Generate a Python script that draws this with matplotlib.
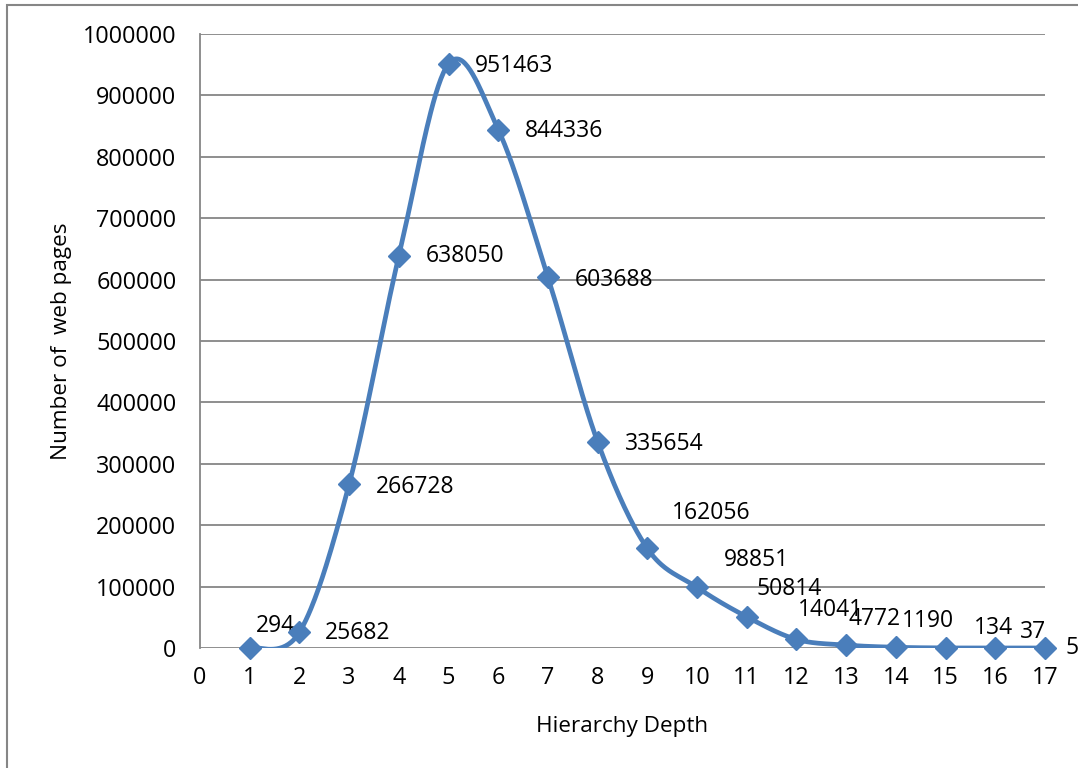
import numpy as np
import matplotlib.pyplot as plt
from matplotlib.patches import Rectangle

plt.rcParams['font.family'] = ['Open Sans', 'DejaVu Sans']

# data
depth = [1, 2, 3, 4, 5, 6, 7, 8, 9, 10, 11, 12, 13, 14, 15, 16, 17]
pages = [294, 25682, 266728, 638050, 951463, 844336, 603688, 335654,
         162056, 98851, 50814, 14041, 4772, 1190, 134, 37, 5]
x_ticks = list(range(0, 18))
y_ticks = list(range(0, 1000001, 100000))

# label offsets in pixels (dx, dy), as placed in the original chart
label_off = [(26, 22), (58, -1), (66, -3), (66, 0), (66, -2), (66, -1),
             (66, -3), (67, -2), (64, 35), (59, 27), (42, 28), (34, 29),
             (28, 26), (32, 26), (48, 20), (38, 16), (27, 0)]


def excel_smooth(x, y, n=40):
    # Catmull-Rom style bezier, similar to Excel's smoothed line
    x = np.asarray(x, float)
    y = np.asarray(y, float)
    px = np.concatenate([[x[0]], x, [x[-1]]])
    py = np.concatenate([[y[0]], y, [y[-1]]])
    xs, ys = [], []
    t = np.linspace(0, 1, n)
    for i in range(1, len(px) - 2):
        p0 = np.array([px[i], py[i]])
        p3 = np.array([px[i + 1], py[i + 1]])
        p1 = p0 + (np.array([px[i + 1], py[i + 1]]) - np.array([px[i - 1], py[i - 1]])) / 6
        p2 = p3 - (np.array([px[i + 2], py[i + 2]]) - np.array([px[i], py[i]])) / 6
        b = (np.outer((1 - t) ** 3, p0) + np.outer(3 * (1 - t) ** 2 * t, p1)
             + np.outer(3 * (1 - t) * t ** 2, p2) + np.outer(t ** 3, p3))
        xs.extend(b[:, 0])
        ys.extend(b[:, 1])
    return np.array(xs), np.array(ys)


W, H = 1078, 768
fig = plt.figure(figsize=(W / 100, H / 100), dpi=100)
ax = fig.add_axes([200 / W, 1 - 648 / H, 845 / W, 614 / H])

# outer chart border
fig.patches.append(Rectangle((7 / W, -0.1), 1.2, 1 - 5 / H + 0.1,
                             transform=fig.transFigure, fill=False,
                             edgecolor='#868686', linewidth=1.5))

blue = '#4A7EBB'
sx, sy = excel_smooth(depth, pages)
ax.plot(sx, sy, color=blue, linewidth=3.4, solid_capstyle='round', zorder=3)
ax.plot(depth, pages, linestyle='none', marker='D', markersize=11,
        color=blue, zorder=4, clip_on=False)

for xv, yv, (dx, dy) in zip(depth, pages, label_off):
    ax.annotate(str(yv), (xv, yv), xytext=(dx, dy), textcoords='offset pixels',
                ha='center', va='center', fontsize=16.5, color='black',
                annotation_clip=False)

ax.set_xlim(0, 17)
ax.set_ylim(0, 1000000)
ax.set_xticks(x_ticks)
ax.set_yticks(y_ticks)
ax.set_xticklabels([str(v) for v in x_ticks])
ax.set_yticklabels([str(v) for v in y_ticks])
ax.tick_params(axis='both', length=0, labelsize=16.8)
ax.tick_params(axis='x', pad=13)
ax.tick_params(axis='y', pad=17)
ax.grid(axis='y', color='#868686', linewidth=1.3)
ax.set_axisbelow(True)
for s in ['top', 'right', 'bottom']:
    ax.spines[s].set_visible(False)
ax.spines['left'].set_color('#868686')
ax.spines['left'].set_linewidth(1.3)

ax.set_xlabel('Hierarchy Depth', fontsize=16.2, labelpad=19)
ax.set_ylabel('Number of  web pages', fontsize=16.2, labelpad=8)

fig.savefig('out.png', dpi=100)
